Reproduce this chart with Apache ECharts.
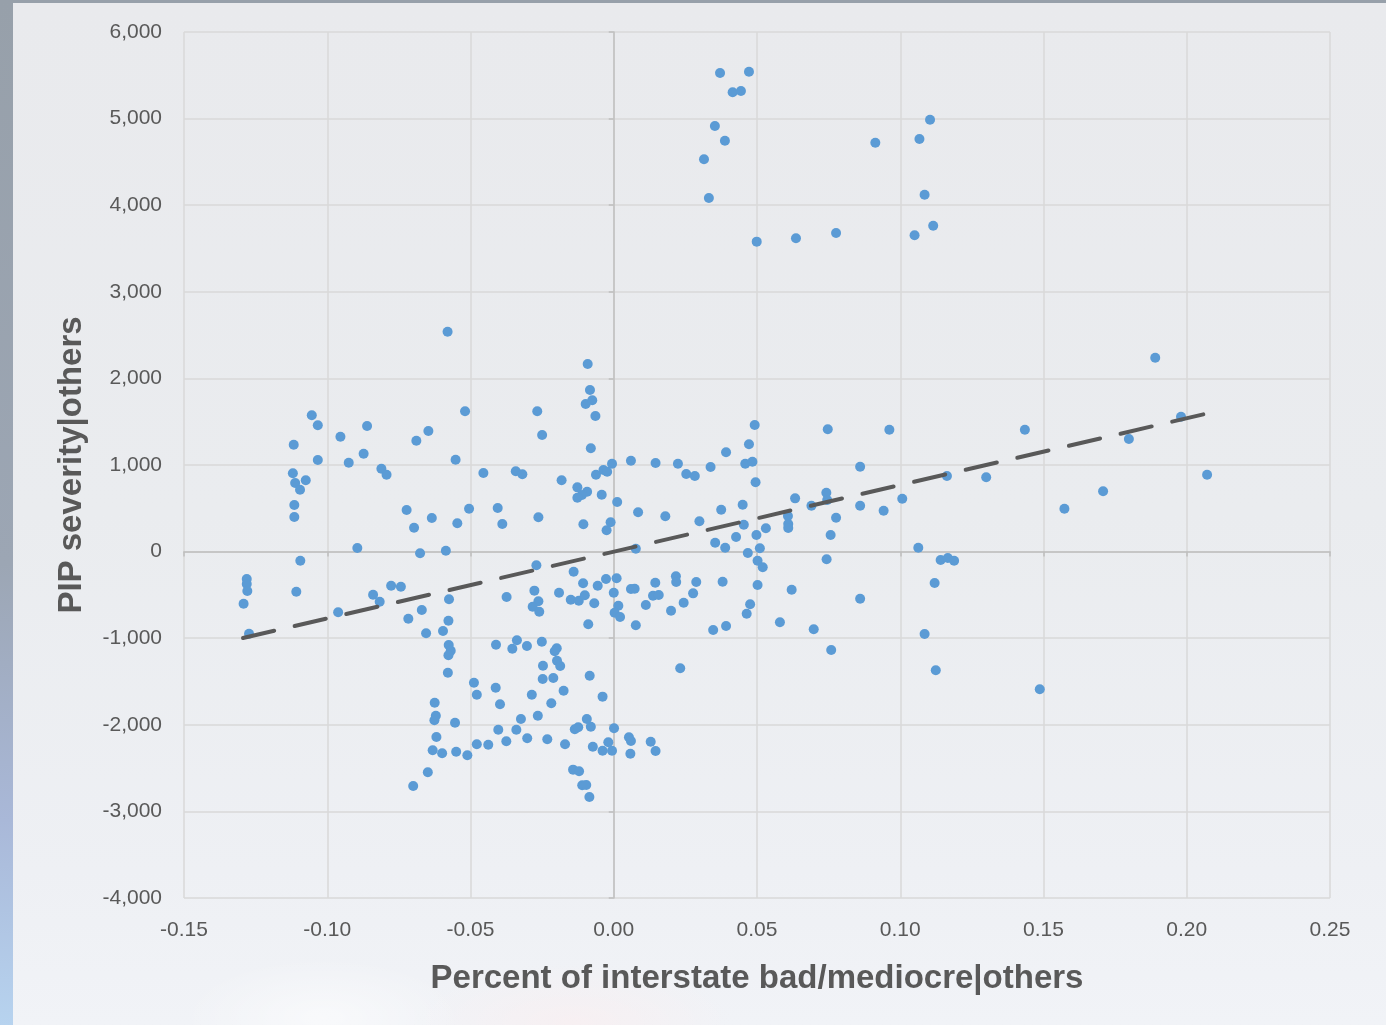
<!DOCTYPE html>
<html>
<head>
<meta charset="utf-8">
<script src="https://cdn.jsdelivr.net/npm/echarts@6/dist/echarts.min.js"></script>
<style>
  html, body { margin: 0; padding: 0; }
  body {
    width: 1386px; height: 1025px; overflow: hidden; position: relative;
    background: linear-gradient(180deg, #97a0aa 0%, #9ca6b4 55%, #a9b8d8 80%, #b7d3ef 100%);
  }
  #panel {
    position: absolute; left: 13px; top: 3px; right: 0; bottom: 0;
    background:
      radial-gradient(ellipse 140px 60px at 310px 1015px, rgba(255,255,255,0.55), rgba(255,255,255,0) 100%),
      radial-gradient(ellipse 160px 60px at 560px 1020px, rgba(255,236,236,0.45), rgba(255,236,236,0) 100%),
      linear-gradient(180deg, #e9eaed 0%, #eaecef 50%, #eef0f4 85%, #f1f3f7 100%);
  }
  #chart { position: absolute; left: 0; top: 0; width: 1386px; height: 1025px; }
</style>
</head>
<body>
<div id="panel"></div>
<div id="chart"></div>
<script>
// Percent of interstate roads in bad/mediocre condition (residual) vs PIP severity (residual)
const pctBadMediocre = [
  0.0371, 0.0472, 0.0415, 0.0444, 0.0353, 0.0388, 0.0315, 0.0332, 0.0499, 0.0636,
  0.0776, 0.0913, 0.1104, 0.1067, 0.1085, 0.1050, 0.1115,
  -0.0580, -0.1054, -0.1033, -0.1117, -0.0954, -0.0861, -0.0689, -0.0647, -0.0519, -0.1033,
  -0.0925, -0.0873, -0.0552, -0.1120, -0.1112, -0.1075, -0.1095, -0.0811, -0.0793, -0.1115,
  -0.1115, -0.0723, -0.0635, -0.0697, -0.0546, -0.0505, -0.0895, -0.0676, -0.0586, -0.1094,
  -0.0091, -0.0083, -0.0098, -0.0075, -0.0064, -0.0267, -0.0250, -0.0080, -0.0455, -0.0342,
  -0.0319, -0.0062, -0.0036, -0.0023, -0.0006, 0.0060, 0.0146, 0.0224, 0.0253, 0.0283,
  0.0338, 0.0392, -0.0182, -0.0127, -0.0093, -0.0111, -0.0127, -0.0042, 0.0012, -0.0405,
  -0.0389, -0.0263, -0.0106, -0.0011, -0.0025, 0.0085, 0.0180, 0.0299, 0.0375, 0.0354,
  0.0389, 0.0077, -0.0270,
  0.0492, 0.0747, 0.0962, 0.0472, 0.0459, 0.0484, 0.0495, 0.0860, 0.0633, 0.0742,
  0.0745, 0.0690, 0.0860, 0.1007, 0.0942, 0.1163, 0.0450, 0.0454, 0.0608, 0.0609,
  0.0609, 0.0776, 0.0757, 0.0531, 0.0498, 0.0427, 0.0510, 0.0468, 0.0502, 0.0520,
  0.0743, 0.1063, 0.1141, 0.1166, 0.1188,
  0.1890, 0.1435, 0.1980, 0.1798, 0.1300, 0.2071, 0.1708, 0.1573,
  -0.1281, -0.1281, -0.1279, -0.1292, -0.1273, -0.1108, -0.0962, -0.0840, -0.0817, -0.0777,
  -0.0743, -0.0717, -0.0670, -0.0655, -0.0575, -0.0577, -0.0596, -0.0576, -0.0569, -0.0577,
  -0.0579, -0.0488, -0.0478, -0.0625, -0.0621, -0.0626, -0.0554, -0.0619, -0.0632, -0.0599,
  -0.0550, -0.0511, -0.0478, -0.0649, -0.0700,
  -0.0140, -0.0374, -0.0277, -0.0263, -0.0283, -0.0260, -0.0191, -0.0150, -0.0122, -0.0107,
  -0.0101, -0.0068, -0.0056, -0.0027, 0.0010, 0.0000, 0.0016, 0.0003, 0.0022, -0.0089,
  0.0060, 0.0073, 0.0077, 0.0112, 0.0137, 0.0157, 0.0145, 0.0200, 0.0217, 0.0218,
  0.0244, 0.0277, 0.0288, 0.0380, 0.0347, 0.0392, 0.0232, -0.0411, -0.0338, -0.0354,
  -0.0303, -0.0251, -0.0199, -0.0206, -0.0198, -0.0187, -0.0247, -0.0248, -0.0211, -0.0084,
  -0.0412, -0.0286, -0.0175, -0.0397, -0.0218, -0.0039, -0.0324, -0.0265, -0.0094, -0.0080,
  -0.0136, -0.0124, 0.0001, -0.0403, -0.0340, -0.0302, -0.0375, -0.0438, -0.0232, -0.0170,
  -0.0073, -0.0019, -0.0039, -0.0006, 0.0053, 0.0060, 0.0058, 0.0129, 0.0146, -0.0142,
  -0.0121, -0.0110, -0.0096, -0.0085,
  0.0502, 0.0621, 0.0860, 0.0476, 0.0464, 0.0580, 0.0698, 0.0759, 0.1120, 0.1085,
  0.1124, 0.1487
];

const pipSeverity = [
  5527, 5542, 5304, 5319, 4915, 4745, 4530, 4083, 3579, 3618,
  3679, 4722, 4987, 4764, 4121, 3652, 3763,
  2539, 1574, 1458, 1234, 1327, 1450, 1281, 1393, 1620, 1058,
  1027, 1130, 1061, 904, 792, 823, 715, 957, 888, 538,
  400, 480, 388, 276, 327, 495, 42, -20, 10, -105,
  2166, 1866, 1704, 1747, 1566, 1620, 1346, 1193, 908, 927,
  893, 888, 942, 923, 1015, 1050, 1023, 1015, 896, 873,
  977, 1147, 823, 742, 692, 654, 622, 657, 573, 503,
  319, 396, 315, 338, 246, 454, 408, 350, 484, 103,
  45, 33, -158,
  1462, 1412, 1408, 1239, 1015, 1038, 800, 980, 615, 680,
  596, 530, 530, 611, 472, 873, 542, 311, 411, 319,
  273, 391, 192, 269, 192, 169, 38, -16, -105, -181,
  -89, 45, -97, -74, -105,
  2239, 1408, 1558, 1300, 858, 888, 696, 495,
  -316, -374, -455, -602, -948, -463, -701, -498, -579, -394,
  -405, -775, -674, -943, -551, -798, -917, -1078, -1144, -1197,
  -1398, -1514, -1652, -1745, -1895, -1948, -1976, -2141, -2294, -2329,
  -2311, -2352, -2225, -2548, -2707,
  -232, -524, -451, -574, -636, -694, -475, -555, -567, -366,
  -505, -597, -394, -316, -308, -475, -625, -706, -755, -839,
  -432, -428, -851, -617, -509, -501, -359, -682, -285, -351,
  -590, -482, -351, -348, -905, -859, -1348, -1075, -1024, -1121,
  -1090, -1040, -1117, -1151, -1260, -1321, -1318, -1471, -1460, -1433,
  -1572, -1652, -1606, -1763, -1752, -1675, -1933, -1895, -1933, -2022,
  -2052, -2029, -2040, -2057, -2057, -2156, -2190, -2230, -2167, -2225,
  -2253, -2202, -2299, -2299, -2144, -2187, -2334, -2195, -2302, -2518,
  -2537, -2699, -2695, -2834,
  -386, -440, -544, -609, -717, -816, -897, -1136, -363, -951,
  -1371, -1590
];

// Linear trend line end points
const trendX = [-0.1294, 0.2064];
const trendY = [-998, 1589];

// Axis ranges
const xRange = { min: -0.15, max: 0.25, step: 0.05 };
const yRange = { min: -4000, max: 6000, step: 1000 };

const xTitle = 'Percent of interstate bad/mediocre|others';
const yTitle = 'PIP severity|others';

const points = pctBadMediocre.map((x, i) => [x, pipSeverity[i]]);
const trend = trendX.map((x, i) => [x, trendY[i]]);

const FONT = '"Liberation Sans", Arial, sans-serif';
const TEXT = '#595959';
const GRID = '#d9d9d9';
const AXIS = '#bfbfbf';

const chart = echarts.init(document.getElementById('chart'), null, { renderer: 'canvas' });

chart.setOption({
  backgroundColor: 'transparent',
  animation: false,
  textStyle: { fontFamily: FONT },
  grid: { left: 184, right: 56, top: 32, bottom: 127, containLabel: false, outerBoundsMode: 'none' },
  xAxis: [
    {
      type: 'value', position: 'bottom',
      min: xRange.min, max: xRange.max, interval: xRange.step,
      axisLine: { show: false, onZero: false },
      axisTick: { show: false },
      splitLine: { show: true, lineStyle: { color: GRID, width: 1.5 } },
      axisLabel: {
        margin: 22, color: TEXT, fontSize: 21, fontFamily: FONT,
        formatter: v => (Math.abs(v) < 1e-9 ? 0 : v).toFixed(2)
      },
      name: xTitle, nameLocation: 'middle', nameGap: 64,
      nameTextStyle: { color: TEXT, fontSize: 33, fontWeight: 'bold', fontFamily: FONT }
    },
    {
      type: 'value', position: 'bottom',
      min: xRange.min, max: xRange.max, interval: xRange.step,
      axisLine: { show: true, onZero: true, lineStyle: { color: AXIS, width: 1.5 } },
      axisTick: { show: true, length: 5, lineStyle: { color: AXIS, width: 1.5 } },
      axisLabel: { show: false },
      splitLine: { show: false }
    }
  ],
  yAxis: [
    {
      type: 'value', position: 'left',
      min: yRange.min, max: yRange.max, interval: yRange.step,
      axisLine: { show: false, onZero: false },
      axisTick: { show: false },
      splitLine: { show: true, lineStyle: { color: GRID, width: 1.5 } },
      axisLabel: {
        margin: 22, color: TEXT, fontSize: 21, fontFamily: FONT,
        formatter: v => Math.round(v).toLocaleString('en-US')
      },
      name: yTitle, nameLocation: 'middle', nameGap: 96, nameRotate: 90,
      nameTextStyle: { color: TEXT, fontSize: 33, fontWeight: 'bold', fontFamily: FONT }
    },
    {
      type: 'value', position: 'left',
      min: yRange.min, max: yRange.max, interval: yRange.step,
      axisLine: { show: true, onZero: true, lineStyle: { color: AXIS, width: 1.5 } },
      axisTick: { show: true, length: 5, lineStyle: { color: AXIS, width: 1.5 } },
      axisLabel: { show: false },
      splitLine: { show: false }
    }
  ],
  series: [
    {
      type: 'scatter',
      xAxisIndex: 0, yAxisIndex: 0,
      data: points,
      symbol: 'circle', symbolSize: 10,
      itemStyle: { color: '#5B9BD5', opacity: 1 },
      z: 3
    },
    {
      type: 'line',
      xAxisIndex: 0, yAxisIndex: 0,
      data: trend,
      symbol: 'none',
      lineStyle: { color: '#595959', width: 4, type: [32, 21], cap: 'round' },
      z: 4
    }
  ]
});
</script>
</body>
</html>
